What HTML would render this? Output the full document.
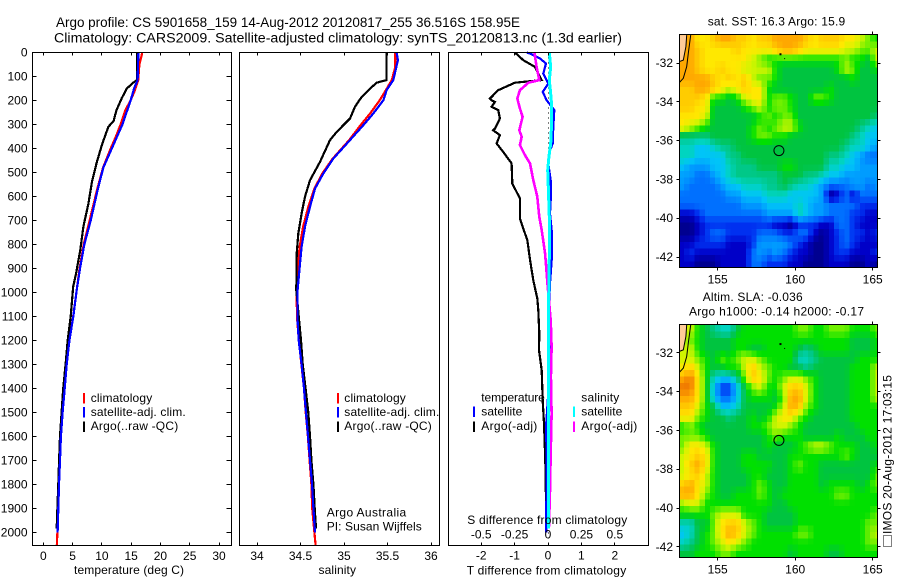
<!DOCTYPE html>
<html lang="en">
<head>
<meta charset="utf-8">
<title>Argo profile chart</title>
<style>
html,body{margin:0;padding:0;background:#fff;}
svg{display:block;}
text{font-family:"Liberation Sans",sans-serif;font-size:12px;fill:#000;}
.title{font-size:13.5px;}
</style>
</head>
<body>
<svg id="chart" xmlns="http://www.w3.org/2000/svg" width="900" height="580" viewBox="0 0 900 580">
  <defs>
    <clipPath id="clip-sst"><rect x="679.5" y="34.5" width="198" height="233"/></clipPath>
    <clipPath id="clip-sla"><rect x="679.5" y="324.5" width="198" height="233"/></clipPath>
  </defs>
  <rect x="0" y="0" width="900" height="580" fill="#fff"/>
  <g id="maps"></g>
  <g id="marks"></g>
  <g id="axes"></g>

  <text class="title" x="56" y="27" textLength="464" lengthAdjust="spacingAndGlyphs">Argo profile: CS 5901658_159 14-Aug-2012 20120817_255 36.516S 158.95E</text>
  <text class="title" x="54" y="42.5" textLength="568" lengthAdjust="spacingAndGlyphs">Climatology: CARS2009. Satellite-adjusted climatology: synTS_20120813.nc (1.3d earlier)</text>

  <text x="74" y="574" textLength="110">temperature (deg C)</text>
  <text x="318.5" y="574" textLength="37.5">salinity</text>
  <text x="466.7" y="574.5" textLength="159.5">T difference from climatology</text>
  <text x="467.3" y="524" textLength="160">S difference from climatology</text>

  <rect x="83" y="393" width="2" height="10.5" fill="#f00"/>
  <text x="90.7" y="402" textLength="61.5">climatology</text>
  <rect x="83" y="407" width="2" height="10.5" fill="#00f"/>
  <text x="90.7" y="416" textLength="95">satellite-adj. clim.</text>
  <rect x="83" y="421.5" width="2" height="10.5" fill="#000"/>
  <text x="90.7" y="430" textLength="87.5">Argo(..raw -QC)</text>

  <rect x="337" y="393" width="2" height="10.5" fill="#f00"/>
  <text x="344.3" y="402" textLength="61.5">climatology</text>
  <rect x="337" y="407" width="2" height="10.5" fill="#00f"/>
  <text x="344.3" y="416" textLength="95">satellite-adj. clim.</text>
  <rect x="337" y="421.5" width="2" height="10.5" fill="#000"/>
  <text x="344.3" y="430" textLength="87.5">Argo(..raw -QC)</text>

  <text x="326.7" y="516.5" textLength="79.5">Argo Australia</text>
  <text x="326.7" y="530.5" textLength="95">PI: Susan Wijffels</text>

  <text x="481.3" y="401.5" textLength="63.5">temperature</text>
  <rect x="473" y="406.5" width="2" height="10.5" fill="#00f"/>
  <text x="481.3" y="415.5" textLength="41">satellite</text>
  <rect x="473" y="421.5" width="2" height="10.5" fill="#000"/>
  <text x="481.3" y="430" textLength="56">Argo(-adj)</text>
  <text x="581.3" y="401.5" textLength="38">salinity</text>
  <rect x="573" y="406.5" width="2" height="10.5" fill="#0ff"/>
  <text x="581.3" y="415.5" textLength="41">satellite</text>
  <rect x="573" y="421.5" width="2" height="10.5" fill="#f0f"/>
  <text x="581.3" y="430" textLength="56">Argo(-adj)</text>

  <text x="707.7" y="25.5" textLength="137.5">sat. SST: 16.3  Argo: 15.9</text>
  <text x="702.7" y="301" textLength="100">Altim. SLA: -0.036</text>
  <text x="689" y="315.5" textLength="175">Argo h1000: -0.14 h2000: -0.17</text>

  <rect x="883.5" y="535.5" width="8" height="11" fill="none" stroke="#000" stroke-width="1" stroke-dasharray="1 1"/>
  <text transform="translate(891.5,534) rotate(-90)" x="0" y="0" textLength="159">IMOS 20-Aug-2012 17:03:15</text>
</svg>

<script>
// ---- temperature profile (depth in m, temperature in deg C)
const tempClimDepth = [0,50,115,160,200,240,300,350,400,480,570,700,800,900,990,1100,1200,1300,1400,1500,1600,1700,1800,1900,2000,2056];
const tempClimValues = [16.9,16.4,16.2,15.6,14.9,14.0,13.2,12.4,11.5,10.2,9.2,7.9,6.9,6.2,5.7,5.1,4.45,4.0,3.6,3.3,3.0,2.85,2.65,2.5,2.4,2.3];
const tempSatDepth = [0,115,150,200,300,400,480,570,700,800,900,990,1100,1200,1300,1400,1500,1600,1700,1800,1900,2000];
const tempSatValues = [16.24,16.1,15.5,14.9,13.5,11.7,10.25,9.3,8.1,7.0,6.27,5.7,5.13,4.45,4.0,3.65,3.3,3.0,2.85,2.68,2.56,2.45];
const tempArgoDepth = [0,115,125,150,190,240,285,310,385,460,540,630,725,825,920,975,1100,1199,1299,1400,1500,1599,1699,1799,1899,1983];
const tempArgoValues = [16.0,16.0,15.4,14.25,13.4,12.5,12.0,11.1,10.0,9.1,8.3,7.7,6.85,6.3,5.6,5.1,4.67,4.16,3.8,3.4,3.13,2.85,2.7,2.56,2.4,2.28];

// ---- salinity profile
const salClimDepth = [0,60,115,157,199,254,303,365,442,504,567,643,726,810,907,990,1101,1199,1299,1400,1500,1599,1699,1799,1899,2000,2056];
const salClimValues = [35.59,35.59,35.55,35.48,35.41,35.30,35.19,35.06,34.87,34.75,34.66,34.59,34.53,34.49,34.47,34.455,34.46,34.48,34.51,34.54,34.56,34.585,34.605,34.625,34.635,34.66,34.675];
const salSatDepth = [0,32,115,157,199,254,303,365,442,504,567,643,726,810,907,990,1101,1199,1299,1400,1500,1599,1699,1799,1899,2000];
const salSatValues = [35.605,35.62,35.567,35.49,35.452,35.337,35.222,35.069,34.877,34.762,34.667,34.609,34.552,34.513,34.487,34.467,34.464,34.479,34.513,34.54,34.563,34.586,34.609,34.632,34.648,34.667];
const salArgoDepth = [0,115,126,157,185,226,275,331,365,456,532,601,671,754,838,990,1129,1199,1299,1400,1500,1599,1699,1799,1899,1983];
const salArgoValues = [35.487,35.487,35.375,35.28,35.203,35.126,35.069,34.916,34.839,34.724,34.609,34.552,34.513,34.475,34.456,34.452,34.487,34.506,34.525,34.559,34.59,34.609,34.625,34.648,34.663,34.678];

// ---- differences from climatology
const diffTArgoDepth = [0,32,60,115,126,157,192,199,206,226,240,275,317,324,344,379,414,462,546,608,692,782,879,949,1025,1074,1171,1240,1324,1449,1546,1699,1865,1983];
const diffTArgoValues = [-0.99,-0.74,-0.39,-0.19,-0.99,-1.49,-1.74,-1.69,-1.59,-1.69,-1.49,-1.44,-1.59,-1.64,-1.44,-1.54,-1.34,-1.09,-1.07,-0.84,-0.84,-0.62,-0.52,-0.44,-0.32,-0.29,-0.26,-0.27,-0.19,-0.16,-0.12,-0.08,-0.06,-0.06];
const diffTSatDepth = [0,7,25,46,88,129,164,199,240,310,379,421,462,532,615,671,754,865,962,1032,1101,1310,1560,1685,1900,2000];
const diffTSatValues = [-0.64,-0.49,-0.24,-0.06,-0.14,0.01,-0.16,-0.04,0.19,0.16,0.14,0.03,0.01,0.08,0.08,0.06,0.12,0.11,0.06,0.04,0.06,0.06,-0.06,-0.04,-0.05,-0.05];
const diffSArgoDepth = [0,60,115,126,157,192,233,268,324,351,386,428,462,532,601,685,740,838,921,976,1115,1226,1351,1504,1671,1824,1983];
const diffSArgoValues = [-0.102,-0.085,-0.065,-0.147,-0.21,-0.23,-0.21,-0.19,-0.215,-0.197,-0.21,-0.172,-0.135,-0.11,-0.08,-0.065,-0.047,-0.022,-0.01,-0.002,0.02,0.027,0.022,0.027,0.02,0.015,0.007];
const diffSSatDepth = [0,60,115,171,219,295,379,435,490,560,685,851,1018,1171,1449,1726,1983];
const diffSSatValues = [0.01,0.02,0.01,0.02,0.027,0.027,0.02,0.007,-0.002,0.002,0.01,0.01,0.005,0.005,0.005,0.002,0.002];

// ---- tick labels
const depthTicks = [0,100,200,300,400,500,600,700,800,900,1000,1100,1200,1300,1400,1500,1600,1700,1800,1900,2000];
const tempTicks = [0,5,10,15,20,25,30];
const salTicks = [34,34.5,35,35.5,36];
const diffTTicks = [-2,-1,0,1,2];
const diffSTicks = [-0.5,-0.25,0,0.25,0.5];
const lonTicks = [155,160,165];
const latTicks = [-32,-34,-36,-38,-40,-42];

// ---- map data: colour level read at half-degree spacing, north to south
const sstLevels = [
[14,14,12,12,13,14,14,13,13,12,13,13,14,14,14,14,13,12,13,13,13,12,12,11,10,9],
[14,14,13,12,12,12,12,13,12,12,12,12,13,14,14,13,12,12,12,12,12,11,11,10,10,11],
[14,14,13,12,12,12,12,12,12,11,10,9,9,9,9,9,9,9,9,9,9,10,9,9,8,11],
[14,14,13,12,12,13,12,12,11,11,11,11,9,8,8,8,8,8,8,8,9,11,10,8,8,9],
[14,14,14,14,13,12,13,12,13,11,10,10,9,8,8,8,8,8,8,8,8,8,9,8,8,8],
[13,13,14,14,13,12,11,12,13,12,12,9,8,8,8,8,8,8,8,9,8,8,8,8,8,8],
[13,13,13,12,9,9,8,9,11,12,12,9,10,10,9,8,8,10,10,9,8,8,8,8,8,8],
[13,13,12,12,8,8,8,8,9,10,11,9,10,10,9,8,8,8,8,8,8,8,8,8,8,8],
[12,12,12,11,8,8,8,8,8,8,9,10,9,10,10,8,8,8,8,8,8,8,8,8,8,7],
[12,11,10,9,8,8,8,8,8,9,10,9,10,11,11,9,8,8,8,8,8,8,8,7,6,5],
[7,7,7,7,8,8,8,8,8,9,10,10,9,9,8,8,8,8,8,8,8,8,7,6,5,5],
[6,6,5,5,6,7,7,8,8,8,8,8,8,8,8,8,8,8,8,8,8,7,6,6,5,4],
[6,6,5,5,5,5,7,7,8,8,8,8,8,8,8,8,8,8,8,7,7,6,5,4,3,3],
[5,4,4,4,5,5,6,7,7,7,8,8,8,9,9,8,8,8,8,6,6,5,5,4,4,4],
[4,4,3,3,4,5,6,7,7,7,7,7,7,8,8,8,7,7,6,5,5,4,4,4,4,4],
[4,3,3,3,3,4,5,5,6,6,6,7,7,8,7,6,6,5,4,3,3,3,4,4,3,4],
[3,3,3,3,3,3,4,4,5,5,5,6,6,6,5,5,5,5,4,0,1,3,1,3,3,3],
[3,3,3,3,3,3,3,3,4,4,4,5,5,5,5,6,5,4,4,3,3,3,3,2,2,2],
[1,1,2,3,3,3,3,3,3,3,3,4,4,4,4,6,5,4,4,3,3,3,2,2,1,1],
[0,0,1,2,2,2,2,2,2,2,2,2,1,1,0,2,2,2,1,1,3,3,2,1,1,1],
[0,0,1,2,3,3,2,2,2,2,3,3,3,2,2,3,3,1,0,1,2,3,2,2,1,2],
[1,1,2,2,2,2,1,1,1,2,4,4,4,4,3,2,1,0,0,1,2,3,2,1,1,1],
[1,2,1,1,1,1,1,1,1,3,4,3,4,3,2,1,1,0,0,1,2,2,1,1,1,2],
[1,1,0,0,0,1,1,1,1,3,3,2,2,2,1,1,0,0,0,1,1,1,0,0,1,0]
];
const slaLevels = [
[11,11,9,8,7,6,6,8,9,9,9,9,9,9,9,10,10,9,9,10,10,10,9,9,9,10],
[11,10,9,8,8,8,8,9,9,9,9,9,9,9,9,9,9,9,9,9,9,9,8,8,8,9],
[11,11,9,8,8,8,8,9,9,8,8,9,9,9,9,8,7,8,9,9,9,9,8,8,8,9],
[11,11,10,9,8,10,9,10,11,11,10,9,9,9,9,6,6,7,8,8,8,8,8,9,9,9],
[12,13,11,9,8,8,9,9,11,13,11,10,9,9,8,8,7,8,8,8,8,8,9,9,9,11],
[14,15,12,9,6,5,5,7,10,13,12,10,9,10,11,11,10,9,8,8,8,8,9,9,9,11],
[15,15,12,9,5,2,2,5,8,10,11,9,9,11,13,13,11,9,8,8,8,8,9,9,9,11],
[14,14,12,9,5,3,3,5,8,9,9,9,8,10,14,14,11,9,8,8,8,8,9,9,9,11],
[13,13,11,9,8,5,5,6,8,8,8,8,9,11,14,13,10,9,8,8,8,8,9,9,9,9],
[12,12,10,9,8,8,7,8,8,9,8,9,11,12,12,10,9,8,8,8,8,8,9,9,9,9],
[9,10,9,8,8,8,8,8,8,9,9,10,11,11,10,9,8,8,8,8,8,8,8,9,9,9],
[10,10,10,9,8,8,8,8,8,8,8,9,10,9,9,9,8,8,8,8,9,8,8,8,9,9],
[10,12,12,11,9,8,8,8,8,8,8,9,8,8,8,9,10,11,11,10,9,9,9,8,8,9],
[11,12,13,12,9,8,8,8,9,9,8,8,8,8,9,9,9,9,9,9,9,10,9,8,8,8],
[11,13,14,12,9,8,8,8,9,9,9,9,8,8,9,10,9,9,8,8,8,8,8,8,8,9],
[11,12,13,11,9,8,8,8,8,9,9,8,8,8,9,9,9,9,8,8,8,8,8,8,8,10],
[13,14,12,11,9,8,8,8,8,9,10,9,8,8,9,9,9,9,8,9,9,9,9,8,9,10],
[14,14,12,10,9,8,8,9,9,9,10,9,8,9,9,9,9,9,9,9,10,10,9,9,9,9],
[10,11,11,9,9,9,9,9,9,9,9,9,8,8,9,9,9,9,9,9,9,9,9,9,9,9],
[9,9,9,9,10,11,11,11,9,9,9,8,8,8,8,9,9,9,9,9,9,9,9,9,9,10],
[6,6,8,8,10,12,13,13,11,10,9,8,8,8,8,9,9,9,9,9,9,9,9,9,10,10],
[5,6,8,9,10,12,14,13,11,10,9,9,9,9,9,10,10,9,9,9,9,9,9,9,10,11],
[6,7,8,9,10,11,12,11,10,9,9,9,9,9,9,9,9,9,9,9,9,9,9,9,10,10],
[8,8,9,9,9,10,10,9,9,9,9,9,9,9,8,9,9,9,9,8,8,9,9,9,9,9]
];
const coastOuterLon = [153.26,153.1,153.0,152.78,152.52];
const coastOuterLat = [-30.56,-31.5,-32.19,-32.79,-33.01];
const coastInnerLon = [153.0,152.95,152.78,152.52];
const coastInnerLat = [-30.56,-31.16,-31.85,-31.93];
const islandLon = [159.05,159.35];
const islandLat = [-31.55,-31.8];
const argoLon = 158.95;
const argoLat = -36.516;

const levelColours = [[0,0,144],[0,0,200],[0,48,240],[0,112,255],[0,156,255],[0,196,248],[0,212,192],[0,200,136],[0,196,64],[0,224,0],[112,240,0],[208,245,0],[255,232,0],[255,204,0],[255,168,0],[240,120,0]];

const NS = 'http://www.w3.org/2000/svg';
const marks = document.getElementById('marks');
const axes = document.getElementById('axes');
const maps = document.getElementById('maps');

// axis functions
const depthY = d => 52.5 + 0.24 * d;
const tempX = t => 43.3 + 5.857 * t;
const salX = s => 257 + 87 * (s - 34);
const diffTX = t => 548 + 33.4 * t;
const diffSX = s => 548 + 133.6 * s;

const PANEL_TOP = 52.5, PANEL_BOTTOM = 545.5;

function drawSeries(name, depths, values, xFn, colour, width) {
  const el = document.createElementNS(NS, 'polyline');
  
  
  el.setAttribute('points', depths.map((d, i) => xFn(values[i]).toFixed(1) + ',' + depthY(d).toFixed(1)).join(' '));
  el.setAttribute('fill', 'none');
  el.setAttribute('stroke', colour);
  el.setAttribute('stroke-width', width);
  el.setAttribute('shape-rendering', 'crispEdges');
  marks.appendChild(el);
}

function tick(parent, x1, y1, x2, y2) {
  const el = document.createElementNS(NS, 'line');
  
  
  el.setAttribute('x1', Math.round(x1 - 0.5) + 0.5);
  el.setAttribute('x2', Math.round(x2 - 0.5) + 0.5);
  el.setAttribute('y1', Math.round(y1 - 0.5) + 0.5);
  el.setAttribute('y2', Math.round(y2 - 0.5) + 0.5);
  el.setAttribute('stroke', '#000');
  el.setAttribute('stroke-width', 1);
  parent.appendChild(el);
}

function label(parent, x, y, str, anchor) {
  const el = document.createElementNS(NS, 'text');
  
  
  el.setAttribute('x', x);
  el.setAttribute('y', y);
  el.setAttribute('text-anchor', anchor);
  el.textContent = str;
  parent.appendChild(el);
}

function frame(parent, name, x, y, w, h) {
  const el = document.createElementNS(NS, 'rect');
  
  
  el.setAttribute('x', x);
  el.setAttribute('y', y);
  el.setAttribute('width', w);
  el.setAttribute('height', h);
  el.setAttribute('fill', 'none');
  el.setAttribute('stroke', '#000');
  el.setAttribute('stroke-width', 1);
  parent.appendChild(el);
}

// zero line in the difference panel
const zeroLine = document.createElementNS(NS, 'line');


zeroLine.setAttribute('x1', 548.5);
zeroLine.setAttribute('x2', 548.5);
zeroLine.setAttribute('y1', PANEL_TOP);
zeroLine.setAttribute('y2', PANEL_BOTTOM);
zeroLine.setAttribute('stroke', '#000');
zeroLine.setAttribute('stroke-dasharray', '1 4');
marks.appendChild(zeroLine);

// series
drawSeries('temperature-climatology-line', tempClimDepth, tempClimValues, tempX, '#f00', 2.2);
drawSeries('temperature-argo-line', tempArgoDepth, tempArgoValues, tempX, '#000', 2.2);
drawSeries('temperature-satellite-line', tempSatDepth, tempSatValues, tempX, '#00f', 2.2);

drawSeries('salinity-climatology-line', salClimDepth, salClimValues, salX, '#f00', 2.2);
drawSeries('salinity-argo-line', salArgoDepth, salArgoValues, salX, '#000', 2.2);
drawSeries('salinity-satellite-line', salSatDepth, salSatValues, salX, '#00f', 2.2);

drawSeries('t-diff-argo-line', diffTArgoDepth, diffTArgoValues, diffTX, '#000', 2.2);
drawSeries('t-diff-satellite-line', diffTSatDepth, diffTSatValues, diffTX, '#00f', 2.2);
drawSeries('s-diff-argo-line', diffSArgoDepth, diffSArgoValues, diffSX, '#f0f', 2.6);
drawSeries('s-diff-satellite-line', diffSSatDepth, diffSSatValues, diffSX, '#0ff', 3);

// frames
frame(axes, 'temperature-panel-frame', 32.5, PANEL_TOP, 199, PANEL_BOTTOM - PANEL_TOP);
frame(axes, 'salinity-panel-frame', 239.5, PANEL_TOP, 200, PANEL_BOTTOM - PANEL_TOP);
frame(axes, 'difference-panel-frame', 448.5, PANEL_TOP, 200, PANEL_BOTTOM - PANEL_TOP);

// depth axis
depthTicks.forEach(d => {
  const y = depthY(d);
  tick(axes, 32.5, y, 36.5, y);
  tick(axes, 231.5, y, 226.5, y);
  label(axes, 27.5, y + 4, String(d), 'end');
});

// bottom and top x ticks
tempTicks.forEach(t => {
  const x = tempX(t);
  tick(axes, x, PANEL_TOP, x, PANEL_TOP + 3);
  tick(axes, x, PANEL_BOTTOM, x, PANEL_BOTTOM - 3);
  label(axes, x, 560, String(t), 'middle');
});
salTicks.forEach(s => {
  const x = salX(s);
  tick(axes, x, PANEL_TOP, x, PANEL_TOP + 3);
  tick(axes, x, PANEL_BOTTOM, x, PANEL_BOTTOM - 3);
  label(axes, x, 560, String(s), 'middle');
});
diffTTicks.forEach(t => {
  const x = diffTX(t);
  tick(axes, x, PANEL_TOP, x, PANEL_TOP + 3);
  tick(axes, x, PANEL_BOTTOM, x, PANEL_BOTTOM - 3);
  label(axes, x, 559.5, String(t), 'middle');
});
diffSTicks.forEach(s => {
  label(axes, diffSX(s), 538.5, String(s), 'middle');
});

// maps
const lonX = lon => 717.7 + 15.5 * (lon - 155);
const LON_LEFT = 152.5, LAT_TOP = -30.56, READ_STEP = 0.5, CELL_DEG = 1 / 3;
const CELL_COLS = 39, CELL_ROWS = 36;

function levelAt(levels, lon, lat) {
  const fc = Math.min(levels[0].length - 1.001, Math.max(0, (lon - LON_LEFT) / READ_STEP - 0.5));
  const fr = Math.min(levels.length - 1.001, Math.max(0, (LAT_TOP - lat) / READ_STEP - 0.5));
  const c0 = Math.floor(fc), r0 = Math.floor(fr);
  const u = fc - c0, v = fr - r0;
  return levels[r0][c0] * (1 - u) * (1 - v) + levels[r0][c0 + 1] * u * (1 - v) +
         levels[r0 + 1][c0] * (1 - u) * v + levels[r0 + 1][c0 + 1] * u * v;
}

function levelColour(level) {
  const i = Math.min(levelColours.length - 2, Math.floor(level));
  const f = level - i;
  const a = levelColours[i], b = levelColours[i + 1];
  return 'rgb(' + a.map((v, k) => Math.round(v + (b[k] - v) * f)).join(',') + ')';
}

function drawMap(prefix, levels, top, bottom, lat32Y) {
  const latY = lat => lat32Y + 19.4 * (-32 - lat);
  const g = document.createElementNS(NS, 'g');
  
  
  g.setAttribute('clip-path', 'url(#clip-' + prefix + ')');
  for (let r = 0; r < CELL_ROWS; r++) {
    for (let c = 0; c < CELL_COLS; c++) {
      const cell = document.createElementNS(NS, 'rect');
      
      
      const lon = LON_LEFT + c * CELL_DEG;
      const lat = LAT_TOP - r * CELL_DEG;
      cell.setAttribute('x', lonX(lon).toFixed(2));
      cell.setAttribute('y', latY(lat).toFixed(2));
      cell.setAttribute('width', (15.5 * CELL_DEG + 0.4).toFixed(2));
      cell.setAttribute('height', (19.4 * CELL_DEG + 0.4).toFixed(2));
      cell.setAttribute('fill', levelColour(levelAt(levels, lon + CELL_DEG / 2, lat - CELL_DEG / 2)));
      cell.setAttribute('shape-rendering', 'crispEdges');
      g.appendChild(cell);
    }
  }

  const landPts = coastInnerLon.map((lon, i) => lonX(lon).toFixed(1) + ',' + latY(coastInnerLat[i]).toFixed(1));
  landPts.push(lonX(152.5).toFixed(1) + ',' + latY(-30.56).toFixed(1));
  const land = document.createElementNS(NS, 'polygon');
  
  
  land.setAttribute('points', landPts.join(' '));
  land.setAttribute('fill', '#ffcc99');
  g.appendChild(land);

  [[coastOuterLon, coastOuterLat], [coastInnerLon, coastInnerLat]].forEach(pair => {
    const coast = document.createElementNS(NS, 'polyline');
    
    
    coast.setAttribute('points', pair[0].map((lon, i) => lonX(lon).toFixed(1) + ',' + latY(pair[1][i]).toFixed(1)).join(' '));
    coast.setAttribute('fill', 'none');
    coast.setAttribute('stroke', '#000');
    coast.setAttribute('stroke-width', 1);
    g.appendChild(coast);
  });

  islandLon.forEach((lon, i) => {
    const island = document.createElementNS(NS, 'rect');
    
    
    island.setAttribute('x', lonX(lon) - 1);
    island.setAttribute('y', latY(islandLat[i]) - 1);
    island.setAttribute('width', i === 0 ? 2 : 1);
    island.setAttribute('height', i === 0 ? 2 : 1);
    island.setAttribute('fill', '#000');
    g.appendChild(island);
  });

  const circle = document.createElementNS(NS, 'circle');
  
  
  circle.setAttribute('cx', lonX(argoLon));
  circle.setAttribute('cy', latY(argoLat));
  circle.setAttribute('r', 5);
  circle.setAttribute('fill', 'none');
  circle.setAttribute('stroke', '#000');
  circle.setAttribute('stroke-width', 1);
  g.appendChild(circle);
  maps.appendChild(g);

  frame(axes, prefix + '-map-frame', 679.5, top, 198, bottom - top);
  lonTicks.forEach(lon => {
    const x = lonX(lon);
    tick(axes, x, top, x, top - 3);
    tick(axes, x, bottom, x, bottom + 3);
    label(axes, x, bottom + 16, String(lon), 'middle');
  });
  latTicks.forEach(lat => {
    const y = latY(lat);
    tick(axes, 679.5, y, 676.5, y);
    tick(axes, 877.5, y, 880.5, y);
    label(axes, 673, y + 4, String(lat), 'end');
  });
}

drawMap('sst', sstLevels, 34.5, 267.5, 63);
drawMap('sla', slaLevels, 324.5, 557.5, 352.8);
</script>
</body>
</html>
